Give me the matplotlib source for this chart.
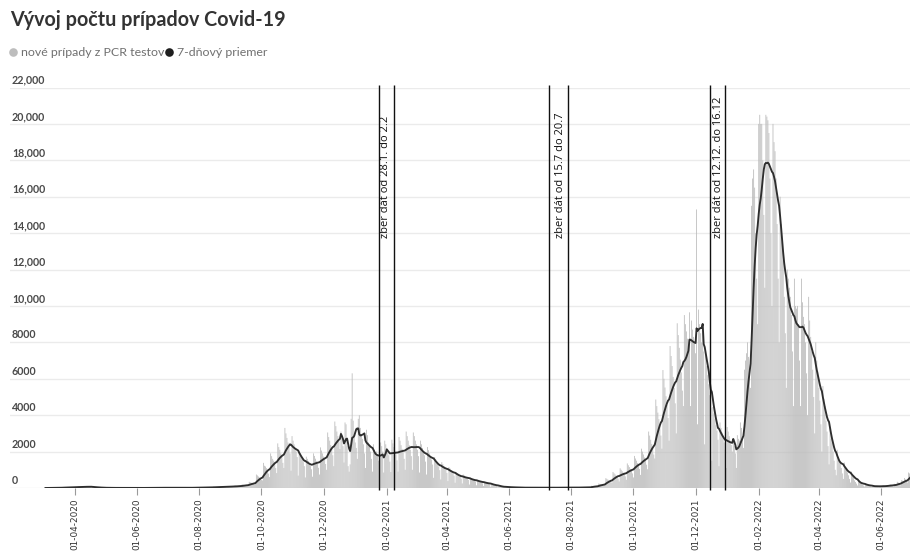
import matplotlib
matplotlib.use("Agg")
import matplotlib.pyplot as plt
import matplotlib.dates as mdates
import matplotlib.transforms as mtransforms
from matplotlib.lines import Line2D
import pandas as pd

# ---------------- data ----------------
title = "Vývoj počtu prípadov Covid-19"
legend_labels = ["nové prípady z PCR testov", "7-dňový priemer"]

first_day = "2020-03-03"   # first daily value; blocks of 7 days follow

# daily PCR cases, 2020 (blocks of 7 days)
cases_2020 = [
    [1, 2, 2],
    [2, 4, 7, 6, 5, 6, 5], [8, 20, 18, 16, 14, 15, 14], [15, 40, 38, 35, 32, 25, 25],
    [25, 60, 55, 52, 48, 40, 35], [30, 80, 75, 70, 62, 55, 48], [35, 95, 90, 80, 75, 65, 50],
    [25, 55, 50, 45, 40, 35, 30], [8, 22, 20, 18, 15, 12, 10], [3, 12, 11, 9, 8, 7, 6],
    [2, 9, 8, 7, 6, 5, 5], [1, 6, 5, 5, 4, 4, 3], [1, 5, 4, 3, 3, 3, 2],
    [1, 6, 5, 5, 4, 4, 3], [2, 7, 6, 6, 5, 5, 4], [3, 12, 10, 9, 8, 7, 7],
    [5, 16, 15, 14, 13, 11, 10], [7, 20, 18, 17, 16, 14, 13], [7, 21, 19, 17, 15, 14, 12],
    [5, 17, 15, 14, 12, 11, 10], [4, 14, 13, 12, 10, 9, 8], [9, 27, 25, 23, 21, 19, 16],
    [11, 34, 31, 29, 26, 24, 20], [16, 47, 44, 40, 37, 33, 28], [22, 68, 62, 58, 52, 48, 40],
    [29, 88, 81, 75, 68, 62, 52], [36, 108, 100, 92, 84, 76, 64], [45, 135, 125, 115, 105, 95, 80],
    [68, 200, 188, 172, 158, 142, 120], [112, 338, 312, 288, 262, 238, 200],
    [250, 740, 690, 630, 580, 520, 440], [420, 1380, 1220, 1180, 1090, 920, 790],
    [600, 1900, 1750, 1600, 1500, 1350, 1100], [820, 2450, 2250, 2100, 1900, 1700, 1380],
    [1100, 3300, 3000, 2750, 2500, 2250, 1900], [950, 2850, 2600, 2400, 2200, 2000, 1700],
    [680, 2000, 1900, 1720, 1580, 1420, 1200], [580, 1720, 1600, 1480, 1350, 1200, 1030],
    [620, 1900, 1760, 1610, 1470, 1330, 1110], [740, 2230, 2060, 1900, 1730, 1570, 1320],
    [1000, 3050, 2800, 2600, 2360, 2140, 1800], [1200, 3650, 3400, 3100, 2850, 2560, 2140],
    [3100, 2800, 2300, 1400, 3600, 3500, 2300], [1200, 900, 1300, 3800, 6300, 3700, 2800],
]

# daily PCR cases, 2021
cases_2021 = [
    [2500, 2200, 1600, 3800, 4000, 3300, 2900], [2700, 2400, 1900, 1100, 3200, 2900, 2500],
    [2300, 2000, 1600, 900, 2400, 2100, 1800], [2000, 1800, 1500, 800, 2500, 2300, 2000],
    [850, 2600, 2400, 2200, 2000, 1800, 1450], [880, 2650, 2450, 2250, 2050, 1850, 1520],
    [900, 2800, 2600, 2350, 2150, 1950, 1600], [1000, 3100, 2850, 2600, 2350, 2100, 1750],
    [1000, 3050, 2850, 2600, 2400, 2100, 1750], [850, 2600, 2400, 2200, 2000, 1800, 1450],
    [740, 2250, 2080, 1900, 1730, 1560, 1290], [560, 1700, 1580, 1440, 1310, 1180, 980],
    [470, 1420, 1320, 1210, 1100, 1000, 830], [380, 1150, 1070, 980, 890, 800, 680],
    [290, 880, 820, 750, 680, 620, 510], [250, 740, 690, 630, 580, 520, 440],
    [190, 580, 540, 490, 450, 410, 350], [150, 450, 410, 380, 350, 310, 260],
    [110, 340, 310, 290, 260, 240, 200], [68, 200, 190, 170, 160, 140, 122],
    [30, 95, 88, 80, 74, 66, 57], [20, 60, 56, 52, 47, 43, 37], [13, 40, 38, 35, 32, 28, 24],
    [9, 27, 25, 23, 21, 19, 16], [7, 20, 19, 17, 16, 14, 12], [5, 16, 15, 14, 13, 11, 10],
    [5, 16, 15, 14, 13, 11, 10], [7, 20, 19, 17, 16, 14, 12], [9, 27, 25, 23, 21, 19, 16],
    [11, 34, 31, 29, 26, 24, 20], [10, 30, 28, 25, 23, 21, 17], [12, 36, 34, 31, 28, 26, 22],
    [16, 47, 44, 40, 37, 33, 28], [40, 122, 112, 104, 95, 85, 72],
    [80, 245, 225, 207, 190, 170, 143], [180, 540, 500, 460, 420, 380, 320],
    [290, 880, 810, 750, 680, 620, 520], [360, 1080, 1000, 920, 840, 760, 640],
    [450, 1350, 1250, 1150, 1050, 950, 800], [580, 1760, 1620, 1500, 1370, 1230, 1040],
    [720, 2160, 2000, 1840, 1680, 1520, 1280], [1030, 3100, 2880, 2650, 2420, 2180, 1840],
    [1620, 4860, 4500, 4140, 3780, 3420, 2880], [2160, 6480, 6000, 5520, 5040, 4560, 3840],
    [2600, 7800, 7250, 6700, 6100, 5500, 4650], [3000, 9050, 8400, 7700, 7050, 6350, 5350],
    [4500, 9500, 9000, 8600, 8200, 7600, 9650], [4500, 9200, 8700, 8300, 8000, 7400, 15300],
    [3500, 9800, 9000, 8500, 8000, 9000, 7500], [2400, 7300, 6700, 6200, 5700, 5100, 4400],
    [1500, 4450, 4100, 3800, 3450, 3150, 2650], [1200, 3600, 3300, 3050, 2800, 2500, 2100],
]

# daily PCR cases, 2022
cases_2022 = [
    [1100, 3350, 3100, 2850, 2600, 2360, 2000], [2600, 2300, 1900, 1100, 2900, 2700, 2600],
    [3600, 3300, 2800, 2200, 6500, 7000, 7400], [8000, 7200, 6200, 5500, 15500, 17000, 17500],
    [16500, 14000, 11500, 9000, 20000, 20500, 20000], [20000, 18000, 15000, 11000, 20500, 20400, 20200],
    [19500, 17000, 14000, 10000, 20000, 19000, 18500], [17000, 14500, 11500, 8000, 16000, 14500, 13500],
    [12500, 10500, 8500, 5500, 12000, 11500, 11000], [10500, 9500, 7500, 4500, 11500, 10000, 9850],
    [10000, 9000, 7000, 4500, 11500, 10200, 9400], [9000, 8000, 6300, 4000, 10500, 9200, 8300],
    [7500, 6500, 5000, 3000, 8000, 7000, 6400], [5500, 4800, 3500, 2000, 5600, 4900, 4500],
    [3700, 3100, 2300, 1300, 3300, 2700, 2500], [2000, 1500, 1000, 700, 2100, 1700, 1500],
    [1400, 1100, 800, 500, 1400, 1150, 1000], [850, 700, 500, 300, 900, 700, 600],
    [420, 330, 240, 140, 400, 300, 270], [230, 190, 135, 80, 230, 175, 150],
    [135, 110, 80, 45, 135, 105, 90], [120, 100, 72, 40, 122, 110, 66],
    [150, 130, 96, 54, 162, 150, 98], [200, 180, 135, 80, 230, 210, 155],
    [340, 300, 250, 150, 430, 400, 370], [550, 480, 400, 300, 850, 800, 750],
]

y_ticks = [0, 2000, 4000, 6000, 8000, 10000, 12000, 14000, 16000, 18000, 20000, 22000]
y_tick_labels = ["0", "2000", "4000", "6000", "8000", "10,000", "12,000", "14,000",
                 "16,000", "18,000", "20,000", "22,000"]

x_tick_dates = ["2020-04-01", "2020-06-01", "2020-08-01", "2020-10-01", "2020-12-01",
                "2021-02-01", "2021-04-01", "2021-06-01", "2021-08-01", "2021-10-01",
                "2021-12-01", "2022-02-01", "2022-04-01", "2022-06-01"]
x_tick_labels = ["01-04-2020", "01-06-2020", "01-08-2020", "01-10-2020", "01-12-2020",
                 "01-02-2021", "01-04-2021", "01-06-2021", "01-08-2021", "01-10-2021",
                 "01-12-2021", "01-02-2022", "01-04-2022", "01-06-2022"]

marker_lines = ["2021-01-24", "2021-02-08", "2021-07-10", "2021-07-29", "2021-12-15", "2021-12-30"]
note_texts = ["zber dát od 28.1. do 2.2", "zber dát od 15.7 do 20.7", "zber dát od 12.12. do 16.12"]
note_dates = ["2021-01-31", "2021-07-21", "2021-12-24"]
note_y = 13750

# ---------------- build series ----------------
daily = [v for block in (cases_2020 + cases_2021 + cases_2022) for v in block]
dates = pd.date_range(first_day, periods=len(daily), freq="D")
series = pd.Series(daily, index=dates)
avg7 = series.rolling(7, min_periods=1).mean()

# ---------------- figure ----------------
plt.rcParams["font.family"] = ["DejaVu Sans"]
W, H = 911, 556
fig = plt.figure(figsize=(W / 100, H / 100), dpi=100)
fig.patch.set_facecolor("white")

ax_left, ax_right, ax_top, ax_bottom = 10, 910, 87.5, 488
ax = fig.add_axes([ax_left / W, 1 - ax_bottom / H, (ax_right - ax_left) / W, (ax_bottom - ax_top) / H])

bars = ax.bar(dates, daily, width=0.8, color="#bcbcbc", linewidth=0, zorder=2)
for p in bars.patches:
    p.set_snap(False)
ax.plot(avg7.index, avg7.values, color="#2e2e2e", lw=1.35, zorder=3,
        solid_joinstyle="round")

# x scale: 01-04-2020 at px 75, 01-06-2022 at px 881
d_a = mdates.date2num(pd.Timestamp("2020-04-01"))
d_b = mdates.date2num(pd.Timestamp("2022-06-01"))
ppd = (881 - 75) / (d_b - d_a)
x0 = d_a - (75 - ax_left) / ppd
x1 = x0 + (ax_right - ax_left) / ppd
ax.set_xlim(x0, x1)
ax.set_ylim(0, 22000)

# grid + y labels
ax.set_yticks(y_ticks)
ax.tick_params(axis="y", length=0, labelleft=False)
ax.grid(axis="y", color="#ebebeb", lw=1.0, zorder=0)
ax.set_axisbelow(True)
ylab_tr = mtransforms.offset_copy(
    mtransforms.blended_transform_factory(ax.transAxes, ax.transData),
    fig=fig, x=2, y=4, units="dots")
for v, lab in zip(y_ticks, y_tick_labels):
    ax.text(0.0, v, lab, transform=ylab_tr, ha="left", va="baseline",
            fontsize=7.7, fontweight="bold", family="Lato", color="#4a4a4a")

# x ticks
ax.set_xticks([mdates.date2num(pd.Timestamp(d)) for d in x_tick_dates])
ax.set_xticklabels(x_tick_labels, rotation=90, fontsize=6.4, color="#333333",
                   family="DejaVu Sans")
ax.tick_params(axis="x", length=5, width=0.8, color="#9a9a9a", pad=2.5)

for s in ax.spines.values():
    s.set_visible(False)

# data-collection markers
ax.vlines([pd.Timestamp(d) for d in marker_lines], -120, 22150, colors="#111111",
          lw=1.0, clip_on=False, zorder=4)
for d, t in zip(note_dates, note_texts):
    ax.text(pd.Timestamp(d), note_y, t, rotation=90, ha="center", va="bottom",
            fontsize=8.0, family="Open Sans", color="#111111", zorder=5)

# title
fig.text(10 / W, 1 - 20 / H, title, fontsize=14.2, fontweight="bold", family="Lato",
         color="#333333", va="center", ha="left")

# legend
ly = 1 - 52 / H
fig.add_artist(Line2D([13 / W], [ly], marker="o", markersize=6.2, color="#bdbdbd",
                      markeredgewidth=0, transform=fig.transFigure))
t1 = fig.text(21 / W, ly, legend_labels[0], fontsize=8.9, family="Lato",
              color="#707070", va="center", ha="left")
fig.canvas.draw()
bb = t1.get_window_extent(renderer=fig.canvas.get_renderer())
mx = bb.x1 + 4.5
fig.add_artist(Line2D([mx / W], [ly], marker="o", markersize=6.2, color="#1e1e1e",
                      markeredgewidth=0, transform=fig.transFigure))
fig.text((mx + 8.5) / W, ly, legend_labels[1], fontsize=8.9, family="Lato",
         color="#707070", va="center", ha="left")

fig.savefig("out.png", dpi=100, facecolor="white")
